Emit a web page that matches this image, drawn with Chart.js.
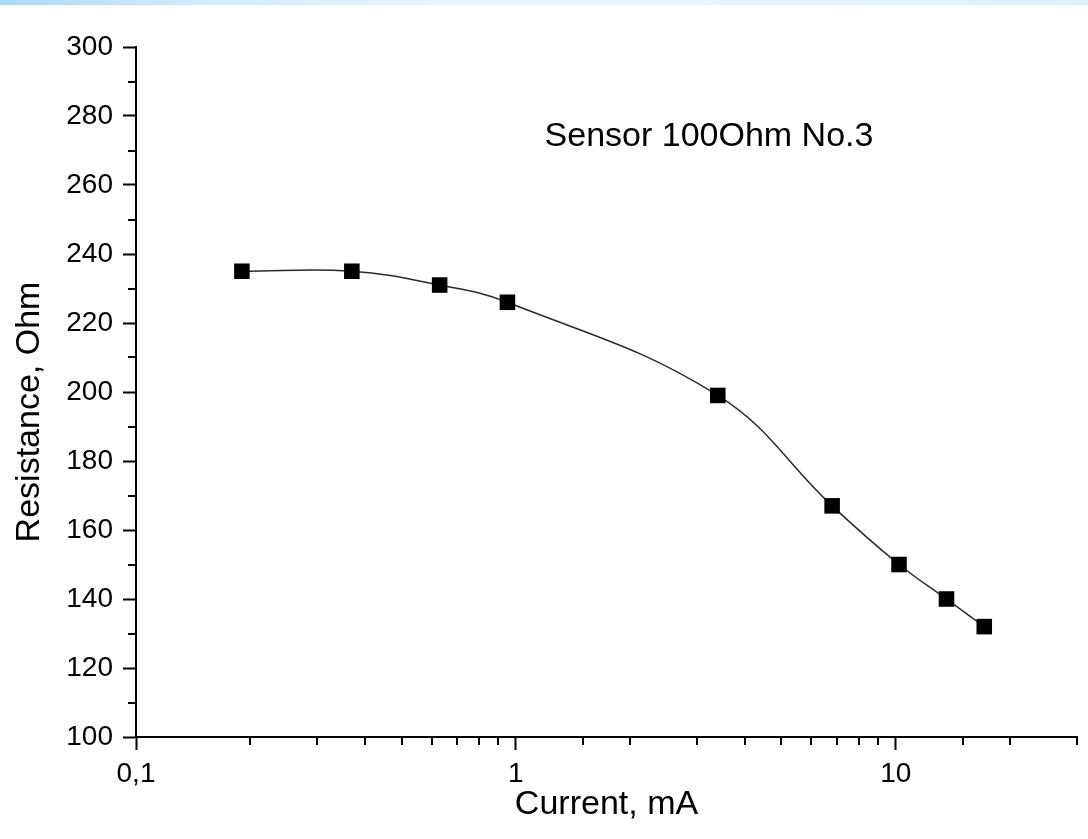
<!DOCTYPE html>
<html>
<head>
<meta charset="utf-8">
<script src="https://cdn.jsdelivr.net/npm/chart.js@4/dist/chart.umd.min.js"></script>
<style>
    html, body { margin: 0; padding: 0; background: #fff; }
    #wrap { position: relative; width: 1088px; height: 839px; }
    #band {
        position: absolute; left: 0; top: 0; width: 1088px; height: 5px;
        background: linear-gradient(to right, #aed9f7 0%, #d6ebfb 20%, #eef6fd 45%, #e6f3fd 75%, #dff0fd 100%);
    }
</style>
</head>
<body>
<div id="wrap">
    <canvas id="sensorChart" width="1088" height="839"></canvas>
    <div id="band"></div>
</div>
<script>
// Data
const currentMA = [0.19, 0.37, 0.63, 0.95, 3.4, 6.8, 10.2, 13.6, 17.1];
const resistanceOhm = [235, 235, 231, 226, 199, 167, 150, 140, 132];

const xMin = 0.1, xMax = 30;
const yMin = 100, yMax = 300, yStep = 10, yLabelStep = 20;

const xTitle = 'Current, mA';
const yTitle = 'Resistance, Ohm';
const note = { x: 1.19, y: 274, text: 'Sensor 100Ohm No.3' };

const FONT = 'Liberation Sans, Arial, sans-serif';

function isDecade(v) {
    const l = Math.log10(v);
    return Math.abs(l - Math.round(l)) < 1e-9;
}

// Minor ticks (shorter), y title (sits a bit below centre in the original) and the note
const extrasPlugin = {
    id: 'extras',
    afterDraw(chart) {
        const c = chart.ctx;
        const xs = chart.scales.x, ys = chart.scales.y;
        c.save();
        c.strokeStyle = '#000';
        c.lineWidth = 2;
        xs.ticks.forEach(t => {
            if (isDecade(t.value)) return;
            const px = Math.round(xs.getPixelForValue(t.value));
            c.beginPath();
            c.moveTo(px, ys.bottom);
            c.lineTo(px, ys.bottom + 8);
            c.stroke();
        });
        ys.ticks.forEach(t => {
            if (t.value % yLabelStep === 0) return;
            const py = Math.round(ys.getPixelForValue(t.value));
            c.beginPath();
            c.moveTo(xs.left, py);
            c.lineTo(xs.left - 8, py);
            c.stroke();
        });
        c.fillStyle = '#000';
        c.font = '34px ' + FONT;
        c.textBaseline = 'middle';
        c.textAlign = 'left';
        c.fillText(note.text, xs.getPixelForValue(note.x), ys.getPixelForValue(note.y));

        // y axis title
        c.translate(30, (ys.top + ys.bottom) / 2 + 20);
        c.rotate(-Math.PI / 2);
        c.textAlign = 'center';
        c.fillText(yTitle, 0, 0);
        c.restore();
    }
};

const ctx = document.getElementById('sensorChart').getContext('2d');

const chart = new Chart(ctx, {
    type: 'line',
    data: {
        datasets: [{
            data: currentMA.map((x, i) => ({ x: x, y: resistanceOhm[i] })),
            borderColor: '#2a2a2a',
            borderWidth: 1.5,
            tension: 0.4,
            pointStyle: 'rect',
            pointRadius: 11,
            pointBackgroundColor: '#000',
            pointBorderColor: '#000',
            pointBorderWidth: 0,
            fill: false,
        }]
    },
    options: {
        responsive: false,
        animation: false,
        layout: { padding: { top: 47, right: 11, left: 0, bottom: 0 } },
        plugins: { legend: { display: false }, tooltip: { enabled: false } },
        scales: {
            x: {
                type: 'logarithmic',
                min: xMin,
                max: xMax,
                afterFit(scale) { scale.height = 102; },
                border: { color: '#000', width: 2 },
                grid: {
                    drawOnChartArea: false,
                    tickLength: 13,
                    tickWidth: 2,
                    tickColor: c => (c.tick && isDecade(c.tick.value)) ? '#000' : 'rgba(0,0,0,0)',
                },
                ticks: {
                    autoSkip: false,
                    maxRotation: 0,
                    padding: 7,
                    color: '#000',
                    font: { family: FONT, size: 28 },
                    callback: v => isDecade(v) ? String(v).replace('.', ',') : '',
                },
                title: {
                    display: true,
                    text: xTitle,
                    color: '#000',
                    font: { family: FONT, size: 34 },
                    padding: { top: 0, bottom: 14 },
                },
            },
            y: {
                min: yMin,
                max: yMax,
                afterFit(scale) { scale.width = 136; },
                border: { color: '#000', width: 2 },
                grid: {
                    drawOnChartArea: false,
                    tickLength: 13,
                    tickWidth: 2,
                    tickColor: c => (c.tick && c.tick.value % yLabelStep === 0) ? '#000' : 'rgba(0,0,0,0)',
                },
                ticks: {
                    stepSize: yStep,
                    autoSkip: false,
                    padding: 10,
                    color: '#000',
                    font: { family: FONT, size: 28 },
                    callback: v => v % yLabelStep === 0 ? v : '',
                },
                title: { display: false },
            },
        },
    },
    plugins: [extrasPlugin],
});
</script>
</body>
</html>
